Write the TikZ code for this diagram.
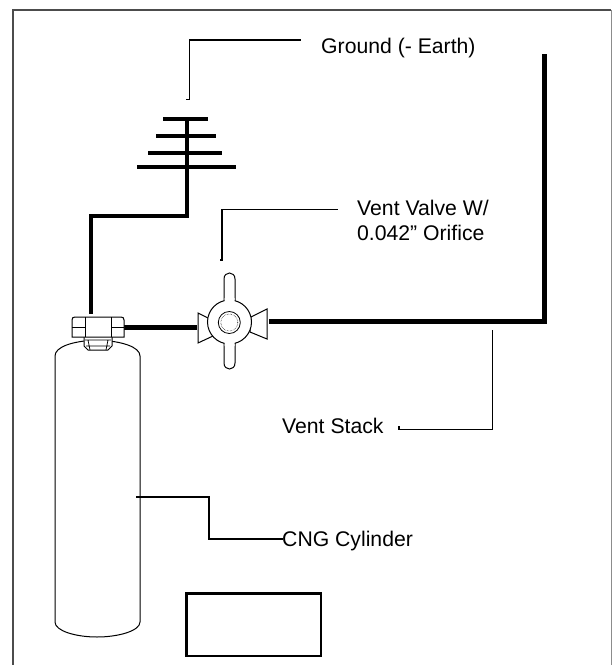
\documentclass[tikz,border=0pt]{standalone}
\usepackage{fontspec}
\setmainfont{Liberation Sans}
\tikzset{
  lbl/.style={inner sep=0pt,anchor=base west,align=left,font=\fontsize{21.2}{25}\selectfont},
  pipe/.style={line width=5pt,line cap=butt,line join=miter},
  gnd/.style={line width=4pt,line cap=butt,line join=miter},
  leader/.style={line width=1.3pt},
  part/.style={line width=1pt,draw=black,fill=white},
  frameline/.style={line width=1.5pt,draw=black!70}
}
\begin{document}
\begin{tikzpicture}[x=1pt,y=-1pt]
\useasboundingbox (0,0) rectangle (612,665);
% frame
\draw[frameline] (13,665) -- (13,10) -- (611,10);
\draw[line width=1pt,draw=black!45] (611.5,10) -- (611.5,665);
% ground
\coordinate (gtop) at (187,119);
\coordinate (gbend) at (187,216);
\coordinate (gleft) at (91,216);
\coordinate (gnut) at (91,314);
\draw[gnd] (gtop) -- (gbend) -- (gleft) -- (gnut);
\foreach \yy/\xa/\xb in {119/163/208,136/156/216,153/148/222,167/137/236}
  \draw[gnd] (\xa,\yy) -- (\xb,\yy);
% pipes
\coordinate (nutr) at (124,327.7);
\coordinate (valvel) at (197,327.7);
\coordinate (valver) at (269,321);
\coordinate (corner) at (544.5,321);
\coordinate (stack) at (544.5,54);
\draw[pipe] (nutr) -- (valvel);
\draw[pipe] (valver) -- (corner) -- (stack);
% cylinder
\draw[part] (55,356) .. controls (55,347) and (72,341) .. (97,340) .. controls (122,341) and (140,347) .. (140,356)
  -- (140,622) .. controls (140,631) and (118,637) .. (97,637) .. controls (76,637) and (55,631) .. (55,622) -- cycle;
% neck
\draw[part] (84,336) -- (84,346) -- (88,350) -- (108,350) -- (112,346) -- (112,336) -- cycle;
\draw[line width=.7pt] (85,340) -- (111,340) (86,346) -- (110,346) (88,340) -- (90,350) (108,340) -- (106,350);
% nut
\draw[part] (75,317) -- (121,317) .. controls (123,317) and (124,318) .. (124,320) -- (124,337) -- (72,337) -- (72,320) .. controls (72,318) and (73,317) .. (75,317) -- cycle;
\draw[line width=1pt] (85,317) -- (85,337) (111,317) -- (111,337) (72,327) -- (85,327) (111,327) -- (124,327);
% valve
\draw[part] (208,318) -- (198,313) -- (198,343) -- (213,336) -- cycle;
\draw[part] (251,317) -- (267,309) -- (267,339) -- (250,332) -- cycle;
\draw[part] (224,304) -- (224,279) .. controls (224,271) and (235,271) .. (235,279) -- (235,304);
\draw[part] (224,341) -- (224,363) .. controls (224,371) and (235,371) .. (235,363) -- (235,341);
\node[circle,part,minimum size=44pt,inner sep=0pt] (valve) at (229.5,322) {};
\fill[white] (224.5,298) rectangle (234.5,305) (224.5,339) rectangle (234.5,346);
\draw[line width=.8pt] (229.3,322.5) circle[radius=11];
\draw[line width=.5pt,densely dotted] (229.3,322.5) circle[radius=8.5];
% rectangle
\draw[line width=2.4pt] (186.5,593.5) rectangle (321,656);
% labels
\node[lbl] (ground) at (321,53) {Ground (- Earth)};
\node[lbl,anchor=west] (vv) at (357,220.5) {Vent Valve W/\\0.042” Orifice};
\node[lbl] (vs) at (282,433) {Vent Stack};
\node[lbl] (cng) at (282,546) {CNG Cylinder};
% leaders
\coordinate (l1) at (186,99.5);
\draw[leader] (l1) -- (189.5,99.5) -- (189.5,40) -- (301,40);
\coordinate (l2) at (220,260);
\draw[leader] (l2) -- (222,260) -- (222,209.5) -- (338,209.5);
\coordinate (l3) at (492.5,330);
\coordinate (l3e) at (399,426);
\draw[leader] (l3) -- (492.5,429.5) -- (399,429.5) -- (l3e);
\coordinate (l4) at (136,497);
\coordinate (l4e) at (283,539);
\draw[leader] (l4) -- (209,497) -- (209,539) -- (l4e);
\end{tikzpicture}
\end{document}
